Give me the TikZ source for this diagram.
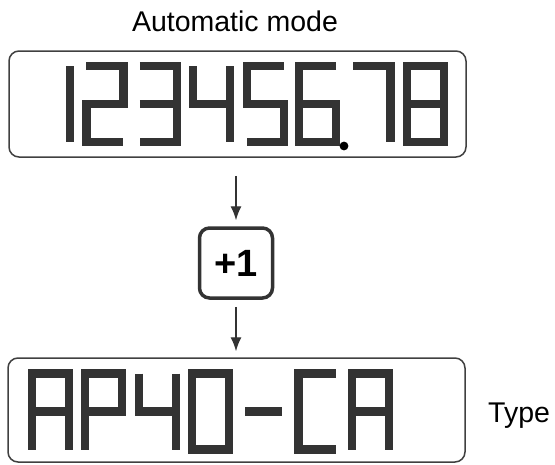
\documentclass[tikz,border=0pt]{standalone}
\usepackage{fontspec}
\setmainfont{Liberation Sans}
\usetikzlibrary{arrows.meta}
\definecolor{seg}{HTML}{333333}
\definecolor{frame}{HTML}{404040}
\tikzset{
  segs/.style={draw=seg, line width=8.2pt, line cap=butt, line join=miter},
  lcdbox/.style={draw=frame, line width=1.5pt, rounded corners=10pt, minimum width=457pt, inner sep=0pt},
  plusbox/.style={draw=seg, line width=3.5pt, rounded corners=10pt, minimum width=73pt, minimum height=70pt, inner sep=0pt,
    font=\fontsize{38}{40}\selectfont\bfseries},
  lbl/.style={font=\fontsize{28.5}{32}\selectfont, inner sep=0pt},
  arr/.style={draw=seg, line width=1.3pt, -{Latex[length=14pt,width=11pt]}},
}
% glyph macros, local coords: left x=4, right x=41, top y=4, mid y=42, bottom y=80
\newcommand\gOne{\draw[segs] (41,4)--(41,80);}
\newcommand\gTwo{\draw[segs] (4,4)--(41,4)--(41,42)--(4,42)--(4,80)--(41,80);}
\newcommand\gThree{\draw[segs] (4,4)--(41,4)--(41,80)--(4,80) (4,42)--(41,42);}
\newcommand\gFour{\draw[segs] (4,4)--(4,42)--(41,42) (41,4)--(41,80);}
\newcommand\gFive{\draw[segs] (41,4)--(4,4)--(4,42)--(41,42)--(41,80)--(4,80);}
\newcommand\gSix{\draw[segs] (41,4)--(4,4)--(4,80)--(41,80)--(41,42)--(4,42);}
\newcommand\gSeven{\draw[segs] (4,4)--(41,4)--(41,80);}
\newcommand\gEight{\draw[segs] (4,4)--(41,4)--(41,80)--(4,80)--cycle (4,42)--(41,42);}
\newcommand\gA{\draw[segs] (4,80)--(4,4)--(41,4)--(41,80) (4,42)--(41,42);}
\newcommand\gP{\draw[segs] (4,80)--(4,4)--(41,4)--(41,42)--(4,42);}
\newcommand\gZero{\draw[segs] (4,4)--(41,4)--(41,80)--(4,80)--cycle;}
\newcommand\gDash{\draw[segs] (4,42)--(41,42);}
\newcommand\gC{\draw[segs] (41,4)--(4,4)--(4,80)--(41,80);}
\newcommand\glyphat[3]{\begin{scope}[shift={(#1,#2)}]#3\end{scope}}
\begin{document}
\begin{tikzpicture}[x=1pt,y=-1pt]
\useasboundingbox (0,0) rectangle (555,464);
% title
\node[lbl, anchor=base] (title) at (235,31.7) {Automatic mode};
% top display
\node[lcdbox, minimum height=106pt] (top) at (237.5,104) {};
\glyphat{29}{62}{\gOne}
\glyphat{82.4}{62}{\gTwo}
\glyphat{135.8}{62}{\gThree}
\glyphat{189.2}{62}{\gFour}
\glyphat{242.6}{62}{\gFive}
\glyphat{295}{62}{\gSix}
\glyphat{349.4}{62}{\gSeven}
\glyphat{402.8}{62}{\gEight}
\fill[black] (344,146) circle (4.4pt);
% +1 box
\node[plusbox] (plus) at (236,263) {+1};
% bottom display
\node[lcdbox, minimum height=104pt] (bot) at (236.5,410) {};
\glyphat{28}{369.5}{\gA}
\glyphat{81.3}{369.5}{\gP}
\glyphat{134.6}{369.5}{\gFour}
\glyphat{187.9}{369.5}{\gZero}
\glyphat{241.2}{369.5}{\gDash}
\glyphat{294.5}{369.5}{\gC}
\glyphat{347.8}{369.5}{\gA}
\node[lbl, anchor=base west] (type) at (488,422) {Type};
% arrows
\draw[arr, shorten <=18pt, shorten >=6pt] (plus.north |- top.south) -- (plus.north);
\draw[arr, shorten <=7pt, shorten >=6pt] (plus.south) -- (plus.south |- bot.north);
\end{tikzpicture}
\end{document}
